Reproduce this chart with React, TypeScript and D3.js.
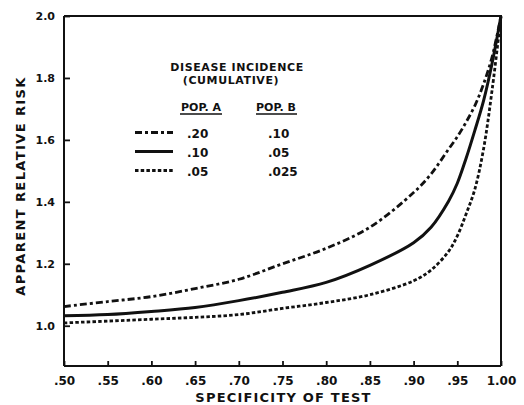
import React, { useRef, useEffect } from 'react';
import * as d3 from 'd3';

// specificity of test (x) and apparent relative risk
const specificity = [0.5, 0.55, 0.6, 0.65, 0.7, 0.75, 0.8, 0.85, 0.9, 0.92, 0.94, 0.95, 0.96, 0.97, 0.98, 0.99, 1.0];
const riskHigh = [1.062, 1.078, 1.094, 1.12, 1.15, 1.2, 1.25, 1.318, 1.43, 1.49, 1.57, 1.61, 1.657, 1.71, 1.78, 1.87, 2.0];
const riskMid = [1.032, 1.036, 1.046, 1.059, 1.081, 1.108, 1.14, 1.195, 1.268, 1.318, 1.402, 1.46, 1.54, 1.63, 1.726, 1.85, 2.0];
const riskLow = [1.009, 1.015, 1.021, 1.027, 1.036, 1.056, 1.075, 1.1, 1.145, 1.18, 1.24, 1.29, 1.36, 1.44, 1.57, 1.765, 2.0];

const popA = ['.20', '.10', '.05'];
const popB = ['.10', '.05', '.025'];
const xTicks = [0.5, 0.55, 0.6, 0.65, 0.7, 0.75, 0.8, 0.85, 0.9, 0.95, 1.0];
const yTicks = [1.0, 1.2, 1.4, 1.6, 1.8, 2.0];

const FONT = '"DejaVu Sans", sans-serif';

function App() {
  const ref = useRef<SVGSVGElement>(null);
  const outerWidth = 524, outerHeight = 405;
  const margin = { top: 16, right: 23, bottom: 39, left: 64 };
  const width = outerWidth - margin.left - margin.right,
    height = outerHeight - margin.top - margin.bottom;

  useEffect(() => {
    draw();
  }, []);

  const draw = () => {
    const svg = d3.select(ref.current);
    svg.selectAll('*').remove();
    const plot = svg.append('g').attr('transform', `translate(${margin.left},${margin.top})`);

    const x = d3.scaleLinear().domain([0.5, 1.0]).range([0, width]);
    const y = d3.scaleLinear().domain([0.87, 2.0]).range([height, 0]);

    // frame (top and right)
    plot.append('path')
      .attr('d', `M0,0H${width}V${height}`)
      .attr('fill', 'none')
      .attr('stroke', '#111')
      .attr('stroke-width', 2);

    const yAxis = d3.axisLeft(y).tickValues(yTicks).tickSize(-6).tickFormat(d3.format('.1f') as any);
    const gy = plot.append('g').call(yAxis);
    gy.select('.domain').attr('stroke', '#111').attr('stroke-width', 2).attr('d', `M0,${height}V0`);
    gy.selectAll('.tick line').attr('stroke', '#111').attr('stroke-width', 1.8);
    gy.selectAll('.tick text')
      .attr('x', -9).attr('dy', '0.36em')
      .style('font-family', FONT).style('font-size', '11px').style('font-weight', 'bold').attr('fill', '#111');

    const xAxis = d3.axisBottom(x).tickValues(xTicks).tickSize(-5)
      .tickFormat((d: any) => d3.format('.2f')(d).replace(/^0/, ''));
    const gx = plot.append('g').attr('transform', `translate(0,${height})`).call(xAxis);
    gx.select('.domain').attr('stroke', '#111').attr('stroke-width', 2).attr('d', `M0,0H${width}`);
    gx.selectAll('.tick line').attr('stroke', '#111').attr('stroke-width', 1.8);
    gx.selectAll('.tick text')
      .attr('y', 10).attr('dy', '0.71em')
      .style('font-family', FONT).style('font-size', '12px').style('font-weight', 'bold').attr('fill', '#111');

    const series = [
      { values: riskHigh, dash: '7,3,3,3', width: 2.8 },
      { values: riskMid, dash: null, width: 3 },
      { values: riskLow, dash: '3.5,2.2', width: 2.8 },
    ];

    const line = d3.line<number>()
      .x((_, i) => x(specificity[i]))
      .y((d) => y(d))
      .curve(d3.curveCatmullRom.alpha(0.5));

    series.forEach((s) => {
      plot.append('path')
        .attr('d', line(s.values))
        .attr('fill', 'none')
        .attr('stroke', '#111')
        .attr('stroke-width', s.width)
        .attr('stroke-dasharray', s.dash);
    });

    // legend
    const lg = svg.append('g').style('font-family', FONT).style('font-weight', 'bold').attr('fill', '#111');
    lg.append('text').attr('x', 237).attr('y', 71).attr('text-anchor', 'middle')
      .style('font-size', '11px').style('letter-spacing', '0.6px').text('DISEASE INCIDENCE');
    lg.append('text').attr('x', 231).attr('y', 84).attr('text-anchor', 'middle')
      .style('font-size', '11px').style('letter-spacing', '0.6px').text('(CUMULATIVE)');
    lg.append('text').attr('x', 201).attr('y', 111).attr('text-anchor', 'middle')
      .style('font-size', '11px').text('POP. A');
    lg.append('text').attr('x', 276).attr('y', 111).attr('text-anchor', 'middle')
      .style('font-size', '11px').text('POP. B');
    lg.append('line').attr('x1', 180).attr('x2', 222).attr('y1', 114).attr('y2', 114).attr('stroke', '#111').attr('stroke-width', 1.3);
    lg.append('line').attr('x1', 256).attr('x2', 297).attr('y1', 114).attr('y2', 114).attr('stroke', '#111').attr('stroke-width', 1.3);

    series.forEach((s, i) => {
      const ly = 132.5 + i * 19;
      lg.append('line')
        .attr('x1', 135).attr('x2', 173).attr('y1', ly).attr('y2', ly)
        .attr('stroke', '#111').attr('stroke-width', s.width)
        .attr('stroke-dasharray', s.dash);
      lg.append('text').attr('x', 187).attr('y', ly + 5).style('font-size', '12px').text(popA[i]);
      lg.append('text').attr('x', 268).attr('y', ly + 5).style('font-size', '12px').text(popB[i]);
    });

    // axis titles
    svg.append('text')
      .attr('x', margin.left + width / 2 + 1).attr('y', 402)
      .attr('text-anchor', 'middle')
      .style('font-family', FONT).style('font-size', '13px').style('font-weight', 'bold').style('letter-spacing', '1.2px')
      .attr('fill', '#111')
      .text('SPECIFICITY OF TEST');
    svg.append('text')
      .attr('transform', 'translate(25,186) rotate(-90)')
      .attr('text-anchor', 'middle')
      .style('font-family', FONT).style('font-size', '13px').style('font-weight', 'bold').style('letter-spacing', '1.4px')
      .attr('fill', '#111')
      .text('APPARENT RELATIVE RISK');
  };

  return (
    <svg ref={ref} width={outerWidth} height={outerHeight}
      style={{ position: 'absolute', left: 0, top: 0, background: '#fff' }}>
    </svg>
  );
}

export default App;
